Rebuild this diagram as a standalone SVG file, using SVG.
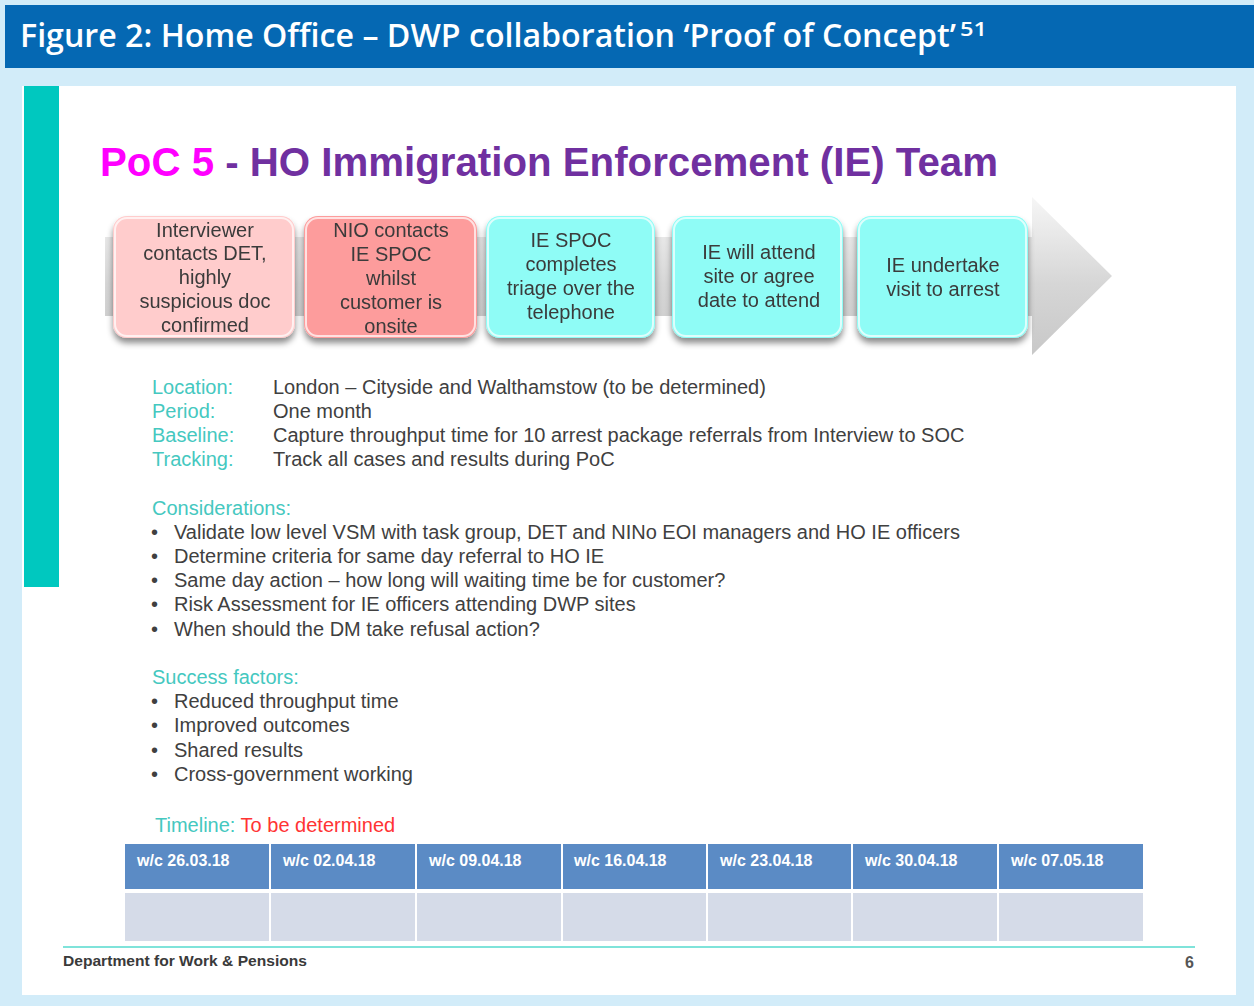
<svg xmlns="http://www.w3.org/2000/svg" width="1254" height="1006" viewBox="0 0 1254 1006">
  <defs>
    <style>
      .hdr { font-family: "Open Sans", "Liberation Sans", sans-serif; font-weight: 600; fill: #ffffff; }
      .body { font-family: "Liberation Sans", Arial, sans-serif; font-size: 20px; fill: #404040; }
      .lbl { font-family: "Liberation Sans", Arial, sans-serif; font-size: 20px; fill: #45c8c0; }
      .step { font-family: "Liberation Sans", Arial, sans-serif; font-size: 20px; fill: #3a3a3a; text-anchor: middle; }
      .wk { font-family: "Liberation Sans", Arial, sans-serif; font-size: 16px; font-weight: bold; fill: #ffffff; }
      .cellH { fill: #5b8bc5; }
      .cellB { fill: #d5dbe8; }
      .pinkL { fill: #ffcccc; }
      .pinkD { fill: #fd9c9c; }
      .cyan { fill: #8ffcf6; }
      .gloss { fill: none; stroke: #ffffff; stroke-opacity: 0.7; stroke-width: 2; }
    </style>
    <linearGradient id="arrowGrad" x1="0" y1="0" x2="0" y2="1">
      <stop offset="0" stop-color="#f6f6f6"/>
      <stop offset="0.55" stop-color="#d6d6d6"/>
      <stop offset="1" stop-color="#c8c8c8"/>
    </linearGradient>
    <filter id="boxShadow" x="-10%" y="-10%" width="120%" height="130%">
      <feDropShadow dx="0" dy="5" stdDeviation="3" flood-color="#000000" flood-opacity="0.45"/>
    </filter>
  </defs>

  <!-- page background -->
  <rect x="0" y="0" width="1254" height="1006" fill="#d2ecf9"/>

  <!-- figure heading -->
  <g id="header">
    <rect x="5" y="5" width="1249" height="63" fill="#0568b3"/>
    <text class="hdr" x="20" y="47" font-size="32" textLength="936" lengthAdjust="spacingAndGlyphs">Figure 2: Home Office – DWP collaboration ‘Proof of Concept’</text>
    <text class="hdr" x="960" y="36" font-size="19" textLength="27" lengthAdjust="spacingAndGlyphs">51</text>
  </g>

  <!-- slide panel -->
  <g id="slide">
    <rect x="22" y="86" width="1214" height="909" fill="#ffffff"/>
    <rect x="24" y="86" width="35" height="501" fill="#00c8bf"/>
  </g>

  <g id="slide-title">
    <text x="100" y="176" font-family="Liberation Sans, Arial, sans-serif" font-size="40" font-weight="bold" textLength="898" lengthAdjust="spacingAndGlyphs"><tspan fill="#ff00ff">PoC 5</tspan><tspan fill="#7030a0"> - HO Immigration Enforcement (IE) Team</tspan></text>
  </g>

  <!-- process flow arrow behind the steps -->
  <g id="connectors">
    <path d="M105,237 H1032 V197 L1112,276 L1032,355 V316 H105 Z" fill="url(#arrowGrad)"/>
  </g>

  <g id="step1" filter="url(#boxShadow)">
    <rect class="pinkL" x="113" y="216" width="182" height="122" rx="14"/>
    <rect class="gloss" x="115" y="218" width="178" height="118" rx="12"/>
    <text class="step"><tspan x="205" y="237">Interviewer</tspan><tspan x="205" y="260">contacts DET,</tspan><tspan x="205" y="284">highly</tspan><tspan x="205" y="308">suspicious doc</tspan><tspan x="205" y="332">confirmed</tspan></text>
  </g>

  <g id="step2" filter="url(#boxShadow)">
    <rect class="pinkD" x="304" y="216" width="173" height="122" rx="14"/>
    <rect class="gloss" x="306" y="218" width="169" height="118" rx="12"/>
    <text class="step"><tspan x="391" y="237">NIO contacts</tspan><tspan x="391" y="261">IE SPOC</tspan><tspan x="391" y="285">whilst</tspan><tspan x="391" y="309">customer is</tspan><tspan x="391" y="333">onsite</tspan></text>
  </g>

  <g id="step3" filter="url(#boxShadow)">
    <rect class="cyan" x="486" y="216" width="169" height="122" rx="14"/>
    <rect class="gloss" x="488" y="218" width="165" height="118" rx="12"/>
    <text class="step"><tspan x="571" y="247">IE SPOC</tspan><tspan x="571" y="271">completes</tspan><tspan x="571" y="295">triage over the</tspan><tspan x="571" y="319">telephone</tspan></text>
  </g>

  <g id="step4" filter="url(#boxShadow)">
    <rect class="cyan" x="672" y="216" width="171" height="122" rx="14"/>
    <rect class="gloss" x="674" y="218" width="167" height="118" rx="12"/>
    <text class="step"><tspan x="759" y="259">IE will attend</tspan><tspan x="759" y="283">site or agree</tspan><tspan x="759" y="307">date to attend</tspan></text>
  </g>

  <g id="step5" filter="url(#boxShadow)">
    <rect class="cyan" x="857" y="216" width="171" height="122" rx="14"/>
    <rect class="gloss" x="859" y="218" width="167" height="118" rx="12"/>
    <text class="step"><tspan x="943" y="272">IE undertake</tspan><tspan x="943" y="296">visit to arrest</tspan></text>
  </g>

  <!-- pilot details -->
  <g id="details">
    <text class="lbl" x="152" y="394">Location:</text>
    <text class="lbl" x="152" y="418">Period:</text>
    <text class="lbl" x="152" y="442">Baseline:</text>
    <text class="lbl" x="152" y="466">Tracking:</text>
    <text class="body" x="273" y="394">London – Cityside and Walthamstow (to be determined)</text>
    <text class="body" x="273" y="418">One month</text>
    <text class="body" x="273" y="442">Capture throughput time for 10 arrest package referrals from Interview to SOC</text>
    <text class="body" x="273" y="466">Track all cases and results during PoC</text>
  </g>

  <g id="considerations">
    <text class="lbl" x="152" y="515">Considerations:</text>
    <text class="body" x="151" y="539">•</text><text class="body" x="174" y="539">Validate low level VSM with task group, DET and NINo EOI managers and HO IE officers</text>
    <text class="body" x="151" y="563">•</text><text class="body" x="174" y="563">Determine criteria for same day referral to HO IE</text>
    <text class="body" x="151" y="587">•</text><text class="body" x="174" y="587">Same day action – how long will waiting time be for customer?</text>
    <text class="body" x="151" y="611">•</text><text class="body" x="174" y="611">Risk Assessment for IE officers attending DWP sites</text>
    <text class="body" x="151" y="636">•</text><text class="body" x="174" y="636">When should the DM take refusal action?</text>
  </g>

  <g id="success-factors">
    <text class="lbl" x="152" y="684">Success factors:</text>
    <text class="body" x="151" y="708">•</text><text class="body" x="174" y="708">Reduced throughput time</text>
    <text class="body" x="151" y="732">•</text><text class="body" x="174" y="732">Improved outcomes</text>
    <text class="body" x="151" y="757">•</text><text class="body" x="174" y="757">Shared results</text>
    <text class="body" x="151" y="781">•</text><text class="body" x="174" y="781">Cross-government working</text>
  </g>

  <!-- timeline table -->
  <g id="timeline">
    <text x="155" y="832" font-family="Liberation Sans, Arial, sans-serif" font-size="20"><tspan fill="#45c8c0">Timeline: </tspan><tspan fill="#ff3333">To be determined</tspan></text>
    <rect class="cellH" x="125" y="844" width="144" height="45"/>
    <rect class="cellH" x="271" y="844" width="144" height="45"/>
    <rect class="cellH" x="417" y="844" width="144" height="45"/>
    <rect class="cellH" x="563" y="844" width="143" height="45"/>
    <rect class="cellH" x="708" y="844" width="143" height="45"/>
    <rect class="cellH" x="853" y="844" width="144" height="45"/>
    <rect class="cellH" x="999" y="844" width="144" height="45"/>
    <rect class="cellB" x="125" y="893" width="144" height="48"/>
    <rect class="cellB" x="271" y="893" width="144" height="48"/>
    <rect class="cellB" x="417" y="893" width="144" height="48"/>
    <rect class="cellB" x="563" y="893" width="143" height="48"/>
    <rect class="cellB" x="708" y="893" width="143" height="48"/>
    <rect class="cellB" x="853" y="893" width="144" height="48"/>
    <rect class="cellB" x="999" y="893" width="144" height="48"/>
    <text class="wk" x="137" y="866">w/c 26.03.18</text>
    <text class="wk" x="283" y="866">w/c 02.04.18</text>
    <text class="wk" x="429" y="866">w/c 09.04.18</text>
    <text class="wk" x="574" y="866">w/c 16.04.18</text>
    <text class="wk" x="720" y="866">w/c 23.04.18</text>
    <text class="wk" x="865" y="866">w/c 30.04.18</text>
    <text class="wk" x="1011" y="866">w/c 07.05.18</text>
  </g>

  <!-- slide footer -->
  <g id="footer">
    <rect x="63" y="946" width="1132" height="2" fill="#7fe3da"/>
    <text x="63" y="966" font-family="Liberation Sans, Arial, sans-serif" font-size="15.5" font-weight="bold" fill="#3a3a3a" textLength="244" lengthAdjust="spacingAndGlyphs">Department for Work &amp; Pensions</text>
    <text x="1185" y="968" font-family="Liberation Sans, Arial, sans-serif" font-size="16" font-weight="bold" fill="#555555">6</text>
  </g>
</svg>
